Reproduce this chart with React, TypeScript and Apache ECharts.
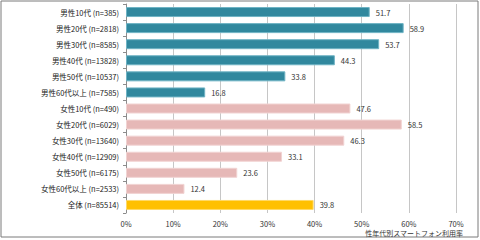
import React, { useEffect, useRef } from "react";
import * as echarts from "echarts";

const categories = [
  "男性10代 (n=385)",
  "男性20代 (n=2818)",
  "男性30代 (n=8585)",
  "男性40代 (n=13828)",
  "男性50代 (n=10537)",
  "男性60代以上 (n=7585)",
  "女性10代 (n=490)",
  "女性20代 (n=6029)",
  "女性30代 (n=13640)",
  "女性40代 (n=12909)",
  "女性50代 (n=6175)",
  "女性60代以上 (n=2533)",
  "全体 (n=85514)",
];

const maleValues = [51.7, 58.9, 53.7, 44.3, 33.8, 16.8];
const femaleValues = [47.6, 58.5, 46.3, 33.1, 23.6, 12.4];
const totalValues = [39.8];

const xTicks = [0, 10, 20, 30, 40, 50, 60, 70];

const MALE = "#31889E";
const FEMALE = "#E6B8B7";
const TOTAL = "#FFC000";
const FONT = '"Noto Sans CJK JP", "Noto Sans", sans-serif';

export default function App() {
  const ref = useRef<HTMLDivElement>(null);

  useEffect(() => {
    document.body.style.margin = "0";
    if (!ref.current) return;
    const chart = echarts.init(ref.current, undefined, { renderer: "svg" });

    const data = [
      ...maleValues.map((v) => ({
        value: v,
        itemStyle: { color: MALE, borderColor: "#6fb3c4", borderWidth: 1 },
      })),
      ...femaleValues.map((v) => ({
        value: v,
        itemStyle: { color: FEMALE, borderColor: "#f1d3d2", borderWidth: 1 },
      })),
      ...totalValues.map((v) => ({
        value: v,
        itemStyle: { color: TOTAL, borderColor: "#ffd966", borderWidth: 1 },
      })),
    ];

    chart.setOption({
      animation: false,
      textStyle: { fontFamily: FONT },
      grid: { left: 126, right: 24, top: 4, bottom: 27, containLabel: false },
      xAxis: {
        type: "value",
        min: xTicks[0],
        max: xTicks[xTicks.length - 1],
        interval: 10,
        axisLine: { show: false },
        axisTick: { show: false },
        splitLine: { show: true, lineStyle: { color: "#c6c6c6", width: 1 } },
        axisLabel: {
          formatter: (v: number) => `${v}%`,
          fontSize: 7.5,
          color: "#333",
          margin: 7,
          fontFamily: FONT,
        },
      },
      yAxis: {
        type: "category",
        inverse: true,
        data: categories,
        axisLine: { show: true, lineStyle: { color: "#8c8c8c" } },
        axisTick: { show: true, length: 3, lineStyle: { color: "#8c8c8c" } },
        axisLabel: { fontSize: 7.5, color: "#222", margin: 7, fontFamily: FONT },
      },
      series: [
        {
          type: "bar",
          data,
          barWidth: 10,
          label: {
            show: true,
            position: "right",
            distance: 6,
            fontSize: 7.5,
            color: "#333",
            fontFamily: FONT,
            formatter: (p: any) => `${p.value}`,
          },
        },
      ],
      graphic: [
        {
          type: "rect",
          shape: { x: 1, y: 1, width: 477, height: 236 },
          style: { fill: "none", stroke: "#7a7a7a", lineWidth: 1 },
          silent: true,
        },
        {
          type: "text",
          x: 463,
          y: 233,
          style: {
            text: "性年代別スマートフォン利用率",
            fontSize: 7,
            fill: "#333",
            fontFamily: FONT,
            align: "right",
            verticalAlign: "middle",
          },
        },
      ],
    });

    return () => chart.dispose();
  }, []);

  return <div ref={ref} style={{ width: 480, height: 240 }} />;
}
